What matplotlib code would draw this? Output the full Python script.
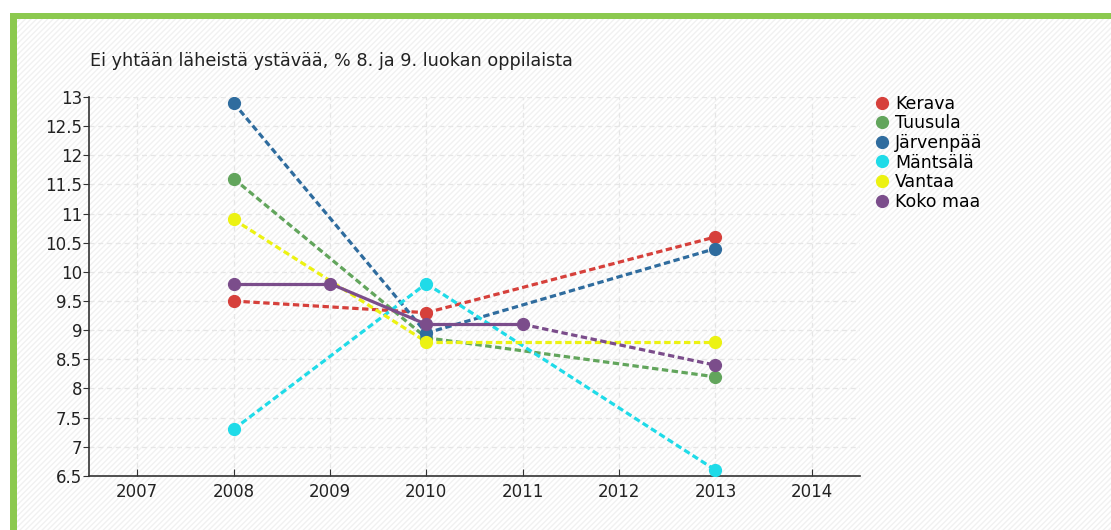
import matplotlib.pyplot as plt
from matplotlib.patches import Rectangle

# values
years = [2008, 2009, 2010, 2011, 2013]
kerava = [9.5, None, 9.3, None, 10.6]
tuusula = [11.6, None, 8.87, None, 8.2]
jarvenpaa = [12.9, None, 8.95, None, 10.4]
mantsala = [7.3, None, 9.8, None, 6.6]
vantaa = [10.9, None, 8.8, None, 8.8]
koko_maa = [9.8, 9.8, 9.1, 9.1, 8.4]

names = ["Kerava", "Tuusula", "Järvenpää", "Mäntsälä", "Vantaa", "Koko maa"]
colors = ["#d6403b", "#62a55c", "#2f6c9e", "#1fdbe8", "#ecf212", "#7b4d8b"]
series = [kerava, tuusula, jarvenpaa, mantsala, vantaa, koko_maa]
xticks = [2007, 2008, 2009, 2010, 2011, 2012, 2013, 2014]
yticks = [6.5, 7, 7.5, 8, 8.5, 9, 9.5, 10, 10.5, 11, 11.5, 12, 12.5, 13]

TITLE = "Ei yhtään läheistä ystävää, % 8. ja 9. luokan oppilaista"

fig = plt.figure(figsize=(11.11, 5.3), dpi=100)
fig.patch.set_facecolor("white")

# faint diagonal hatch background + green frame
bg = Rectangle((0.012, 0), 0.988, 0.97, transform=fig.transFigure,
               facecolor="white", edgecolor="#f1f1f1", hatch="//////",
               linewidth=0, zorder=-10)
fig.add_artist(bg)
fig.add_artist(Rectangle((0.009, 0.965), 0.991, 0.01, transform=fig.transFigure,
                         facecolor="#8cc94f", edgecolor="none", zorder=-5))
fig.add_artist(Rectangle((0.009, 0), 0.006, 0.975, transform=fig.transFigure,
                         facecolor="#8cc94f", edgecolor="none", zorder=-5))

ax = fig.add_axes([0.0801, 0.102, 0.694, 0.715])
ax.patch.set_alpha(0)

for name, vals, c in zip(names, series, colors):
    pts = [(x, v) for x, v in zip(years, vals) if v is not None]
    # solid segments between consecutive years, dashed across gaps
    for (x0, y0), (x1, y1) in zip(pts[:-1], pts[1:]):
        ls = "-" if x1 - x0 == 1 else (0, (2.0, 1.1))
        ax.plot([x0, x1], [y0, y1], color=c, lw=2.3, ls=ls, zorder=2)
    ax.plot([p[0] for p in pts], [p[1] for p in pts], ls="none", marker="o",
            ms=8.5, color=c, zorder=3, label=name)

ax.set_xlim(2006.5, 2014.5)
ax.set_ylim(6.5, 13)
ax.set_xticks(xticks)
ax.set_yticks(yticks)
ax.set_yticklabels([f"{t:g}" for t in yticks])
ax.grid(True, color="#e6e6e6", ls=(0, (4, 3)), lw=0.9)
ax.set_axisbelow(True)
for s in ["top", "right"]:
    ax.spines[s].set_visible(False)
for s in ["left", "bottom"]:
    ax.spines[s].set_color("#333333")
    ax.spines[s].set_linewidth(1.2)
ax.tick_params(axis="x", direction="in", length=5, color="#333333",
               labelsize=12, pad=5, labelcolor="#222222")
ax.tick_params(axis="y", direction="out", length=4, color="#333333",
               labelsize=12, pad=1, labelcolor="#222222")

fig.text(0.081, 0.885, TITLE, fontsize=12.7, color="#222222", va="center")

ax.legend(loc="upper left", bbox_to_anchor=(1.013, 1.024), frameon=False,
          fontsize=12.5, handlelength=0.6, handletextpad=0.45,
          labelspacing=0.09, borderaxespad=0)

fig.savefig("out.png", dpi=100)
